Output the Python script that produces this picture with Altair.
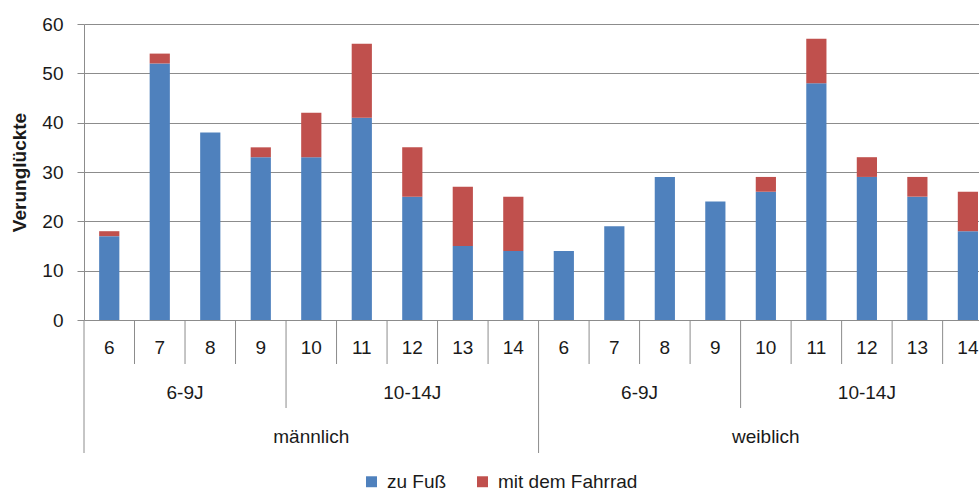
import altair as alt
import pandas as pd

# ---- data ----
genders = ["männlich"] * 9 + ["weiblich"] * 9
groups = (["6-9J"] * 4 + ["10-14J"] * 5) * 2
ages = [6, 7, 8, 9, 10, 11, 12, 13, 14] * 2
zu_fuss = [17, 52, 38, 33, 33, 41, 25, 15, 14, 14, 19, 29, 24, 26, 48, 29, 25, 18]
fahrrad = [1, 2, 0, 2, 9, 15, 10, 12, 11, 0, 0, 0, 0, 3, 9, 4, 4, 8]
series = ["zu Fuß", "mit dem Fahrrad"]
colors = ["#4F81BD", "#C0504D"]
y_ticks = [0, 10, 20, 30, 40, 50, 60]

# ---- tables built from the arrays ----
rows = []
for i, (f, r) in enumerate(zip(zu_fuss, fahrrad)):
    rows.append({"idx": i, "Art": series[0], "lo": 0, "hi": f, "wert": f})
    rows.append({"idx": i, "Art": series[1], "lo": f, "hi": f + r, "wert": r})
bars_df = pd.DataFrame(rows)

age_df = pd.DataFrame({"idx": list(range(len(ages))), "age": [str(a) for a in ages]})


def runs(keys):
    out = []
    start = 0
    for i in range(1, len(keys) + 1):
        if i == len(keys) or keys[i] != keys[start]:
            out.append((keys[start], start, i))
            start = i
    return out


grp_runs = runs(list(zip(genders, groups)))
grp_df = pd.DataFrame({"label": [k[1] for k, s, e in grp_runs],
                       "pos": [(s + e) / 2 for k, s, e in grp_runs]})
gen_runs = runs(genders)
gen_df = pd.DataFrame({"label": [k for k, s, e in gen_runs],
                       "pos": [(s + e) / 2 for k, s, e in gen_runs]})

bnd = []
for b in range(len(ages)):
    if b == 0 or genders[b] != genders[b - 1]:
        lvl = 3
    elif groups[b] != groups[b - 1]:
        lvl = 2
    else:
        lvl = 1
    bnd.append({"b": b, "level": lvl})
bnd_df = pd.DataFrame(bnd)

# ---- chart ----
W, H = 895, 296
FONT = "Liberation Sans"
TXT = "#1a1a1a"
GRID = "#8c8c8c"
xscale = alt.Scale(domain=[0, 17.72], nice=False, zero=False)

bars = alt.Chart(bars_df).transform_calculate(
    x0="datum.idx + 0.3", x1="datum.idx + 0.7"
).mark_bar(clip=True).encode(
    x=alt.X("x0:Q", scale=xscale, axis=None),
    x2="x1:Q",
    y=alt.Y("lo:Q", scale=alt.Scale(domain=[0, 60], nice=False),
            axis=alt.Axis(values=y_ticks, grid=True, gridColor=GRID, gridWidth=1,
                          domainColor=GRID, tickColor=GRID, tickSize=7,
                          labelPadding=14, labelFontSize=19, labelColor=TXT,
                          title="Verunglückte", titleFontSize=19,
                          titleFontWeight="bold", titleColor=TXT, titlePadding=12)),
    y2="hi:Q",
    color=alt.Color("Art:N", sort=series,
                    scale=alt.Scale(domain=series, range=colors),
                    legend=alt.Legend(orient="none", legendX=278, legendY=448,
                                      direction="horizontal", title=None,
                                      symbolType="square", symbolSize=120,
                                      symbolStrokeWidth=0, labelFontSize=19,
                                      labelColor=TXT, columnPadding=26,
                                      labelOffset=6)),
)

age_txt = alt.Chart(age_df).transform_calculate(pos="datum.idx + 0.5").mark_text(
    fontSize=19, color=TXT, baseline="middle", align="center"
).encode(x=alt.X("pos:Q", scale=xscale, axis=None), y=alt.value(H + 28), text="age:N")

grp_txt = alt.Chart(grp_df).mark_text(
    fontSize=19, color=TXT, baseline="middle", align="center"
).encode(x=alt.X("pos:Q", scale=xscale, axis=None), y=alt.value(H + 73), text="label:N")

gen_txt = alt.Chart(gen_df).mark_text(
    fontSize=19, color=TXT, baseline="middle", align="center"
).encode(x=alt.X("pos:Q", scale=xscale, axis=None), y=alt.value(H + 117), text="label:N")

rule_layers = []
for lvl, ln in [(1, 44), (2, 88), (3, 133)]:
    rule_layers.append(
        alt.Chart(bnd_df).transform_filter(f"datum.level == {lvl}").mark_rule(
            color=GRID, strokeWidth=1
        ).encode(x=alt.X("b:Q", scale=xscale, axis=None),
                 y=alt.value(H), y2=alt.value(H + ln))
    )

chart = alt.layer(bars, age_txt, grp_txt, gen_txt, *rule_layers).properties(
    width=W, height=H,
    padding={"left": 84, "top": 24, "right": 0, "bottom": 172},
    autosize=alt.AutoSizeParams(type="none"),
).configure(font=FONT).configure_view(stroke=None)

chart.save("out.html", embed_options={"renderer": "svg", "actions": False})
